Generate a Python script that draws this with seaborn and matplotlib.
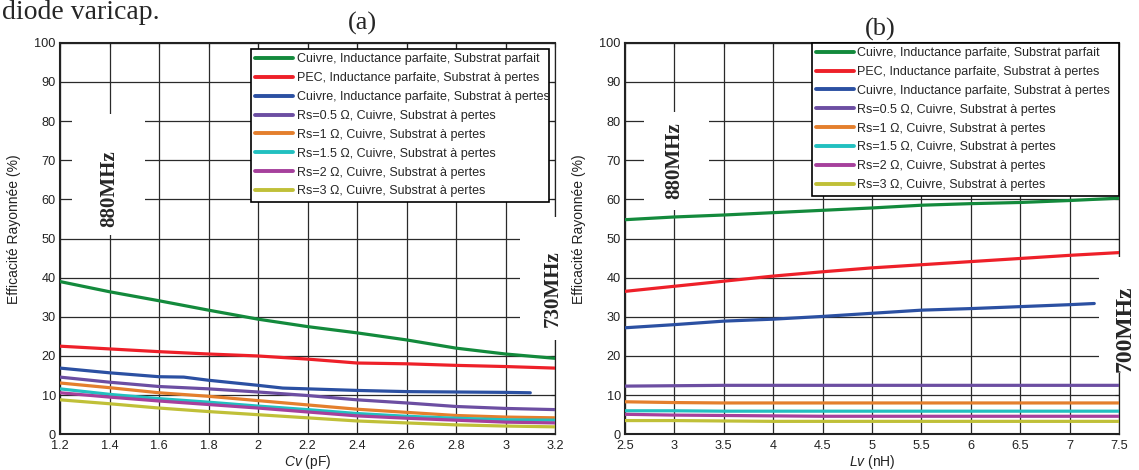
import numpy as np
import pandas as pd
import matplotlib
matplotlib.use('Agg')
import matplotlib.pyplot as plt
from matplotlib.patches import Rectangle
import seaborn as sns

# ---- data ----
labels = ['Cuivre, Inductance parfaite, Substrat parfait',
          'PEC, Inductance parfaite, Substrat à pertes',
          'Cuivre, Inductance parfaite, Substrat à pertes',
          'Rs=0.5 Ω, Cuivre, Substrat à pertes',
          'Rs=1 Ω, Cuivre, Substrat à pertes',
          'Rs=1.5 Ω, Cuivre, Substrat à pertes',
          'Rs=2 Ω, Cuivre, Substrat à pertes',
          'Rs=3 Ω, Cuivre, Substrat à pertes']
colors = ['#138a3c', '#ee2029', '#2b50a2', '#6c4ea2', '#e47f2d', '#22c0c0', '#a6409c', '#c0c038']

# (a) : Cv in pF
cv = [1.2, 1.4, 1.6, 1.8, 2.0, 2.2, 2.4, 2.6, 2.8, 3.0, 3.2]
cv_blue = [1.2, 1.4, 1.6, 1.7, 1.8, 2.0, 2.1, 2.2, 2.4, 2.6, 2.8, 3.0, 3.1]
a_green = [39.0, 36.4, 34.1, 31.7, 29.4, 27.5, 25.9, 24.1, 22.0, 20.5, 19.4]
a_red = [22.5, 21.8, 21.1, 20.5, 20.0, 19.2, 18.2, 18.0, 17.6, 17.3, 16.9]
a_blue = [16.9, 15.7, 14.7, 14.6, 13.8, 12.5, 11.8, 11.6, 11.2, 10.9, 10.8, 10.7, 10.6]
a_purple = [14.6, 13.3, 12.2, 11.6, 10.8, 9.9, 8.8, 8.0, 7.1, 6.6, 6.3]
a_orange = [13.1, 11.9, 10.6, 9.7, 8.6, 7.5, 6.4, 5.6, 4.8, 4.4, 4.2]
a_cyan = [11.6, 10.2, 9.1, 8.2, 7.2, 6.3, 5.3, 4.6, 4.1, 3.7, 3.6]
a_magenta = [10.6, 9.5, 8.5, 7.6, 6.7, 5.7, 4.7, 4.1, 3.6, 3.1, 2.9]
a_yellow = [8.8, 7.8, 6.7, 5.8, 5.0, 4.2, 3.4, 2.9, 2.4, 2.1, 1.9]

# (b) : Lv in nH
lv = [2.5, 3.0, 3.5, 4.0, 4.5, 5.0, 5.5, 6.0, 6.5, 7.0, 7.5]
lv_blue = [2.5, 3.0, 3.5, 4.0, 4.5, 5.0, 5.5, 6.0, 6.5, 7.0, 7.25]
b_green = [54.8, 55.5, 56.0, 56.6, 57.2, 57.8, 58.5, 58.9, 59.2, 59.7, 60.3]
b_red = [36.5, 37.8, 39.1, 40.4, 41.5, 42.5, 43.3, 44.1, 44.9, 45.7, 46.4]
b_blue = [27.2, 28.0, 28.9, 29.4, 30.1, 30.9, 31.7, 32.1, 32.6, 33.1, 33.4]
b_purple = [12.3, 12.4, 12.5, 12.5, 12.5, 12.5, 12.5, 12.5, 12.5, 12.5, 12.5]
b_orange = [8.3, 8.1, 8.0, 8.0, 8.0, 8.0, 8.0, 8.0, 8.0, 8.0, 8.0]
b_cyan = [6.0, 6.0, 5.9, 5.9, 5.9, 5.9, 5.9, 5.9, 5.9, 5.9, 5.9]
b_magenta = [5.1, 4.9, 4.8, 4.7, 4.6, 4.6, 4.6, 4.6, 4.6, 4.6, 4.6]
b_yellow = [3.5, 3.5, 3.4, 3.3, 3.3, 3.3, 3.3, 3.3, 3.3, 3.3, 3.3]

series_a = [(cv, a_green), (cv, a_red), (cv_blue, a_blue), (cv, a_purple),
            (cv, a_orange), (cv, a_cyan), (cv, a_magenta), (cv, a_yellow)]
series_b = [(lv, b_green), (lv, b_red), (lv_blue, b_blue), (lv, b_purple),
            (lv, b_orange), (lv, b_cyan), (lv, b_magenta), (lv, b_yellow)]

sns.set_style('white')
plt.rcParams['font.family'] = ['Liberation Sans', 'DejaVu Sans']
plt.rcParams['mathtext.fontset'] = 'custom'
plt.rcParams['mathtext.it'] = 'Liberation Sans:italic'
plt.rcParams['mathtext.rm'] = 'Liberation Sans'

fig = plt.figure(figsize=(11.39, 4.70), dpi=100)
ax1 = fig.add_axes([0.0527, 0.0760, 0.4346, 0.8331])
ax2 = fig.add_axes([0.5487, 0.0760, 0.4337, 0.8331])


def draw_panel(ax, series, xlim, xticks, xlab, leg_box):
    for (xs, ys), lab, c in zip(series, labels, colors):
        df = pd.DataFrame({'x': xs, 'y': ys})
        sns.lineplot(data=df, x='x', y='y', ax=ax, color=c, lw=2.3, label=lab, zorder=3)
    ax.set_xlim(*xlim)
    ax.set_ylim(0, 100)
    ax.set_xticks(xticks)
    ax.set_xticklabels([('%g' % t) for t in xticks])
    ax.set_yticks(range(0, 101, 10))
    ax.grid(True, color='#2a2a2a', lw=0.9)
    ax.set_axisbelow(True)
    ax.tick_params(direction='in', top=True, right=True, length=3, width=0.8,
                   labelsize=9.2, colors='#222222', pad=3)
    ax.tick_params(axis='x', pad=4)
    for s in ['left', 'bottom', 'top']:
        ax.spines[s].set_linewidth(1.5)
        ax.spines[s].set_color('#222222')
    ax.spines['right'].set_linewidth(0.9)
    ax.spines['right'].set_color('#222222')
    ax.set_xlabel(xlab, fontsize=10, color='#222222')
    ax.set_ylabel('Efficacité Rayonnée (%)', fontsize=10, color='#222222')
    ax.xaxis.set_label_coords(0.5, -0.047)
    ax.yaxis.set_label_coords(-0.079, 0.524)
    leg = ax.legend(loc='upper left', bbox_to_anchor=leg_box, mode='expand',
                    fontsize=9, frameon=True, fancybox=False, borderaxespad=0,
                    borderpad=0.35, labelspacing=0.55, handlelength=3.0,
                    handletextpad=0.3)
    leg.get_frame().set_edgecolor('black')
    leg.get_frame().set_linewidth(1.2)
    leg.get_frame().set_alpha(1)
    leg.set_zorder(5)
    for h in leg.legend_handles:
        h.set_linewidth(2.8)


draw_panel(ax1, series_a, (1.2, 3.2), [1.2, 1.4, 1.6, 1.8, 2.0, 2.2, 2.4, 2.6, 2.8, 3.0, 3.2],
           r'$\mathit{Cv}$ (pF)', (0.386, 0.984, 0.602, 0.0))
draw_panel(ax2, series_b, (2.5, 7.5), [2.5, 3, 3.5, 4, 4.5, 5, 5.5, 6, 6.5, 7, 7.5],
           r'$\mathit{Lv}$ (nH)', (0.378, 1.0, 0.622, 0.0))

# white masks behind the frequency annotations
ax1.add_patch(Rectangle((1.25, 51), 0.295, 30.7, facecolor='white', edgecolor='none', zorder=2.7))
ax1.add_patch(Rectangle((3.06, 24.2), 0.25, 31.4, facecolor='white', edgecolor='none',
                        zorder=2.7, clip_on=False))
ax2.add_patch(Rectangle((2.69, 57.4), 0.66, 24.8, facecolor='white', edgecolor='none', zorder=2.7))
ax2.add_patch(Rectangle((7.3, 15.6), 0.5, 29.7, facecolor='white', edgecolor='none',
                        zorder=2.7, clip_on=False))

serif = ['Liberation Serif', 'DejaVu Serif']
ax1.text(1.4, 62.7, '880MHz', rotation=90, ha='center', va='center', family=serif,
         fontweight='bold', fontsize=15, zorder=4)
ax1.text(3.19, 37.3, '730MHz', rotation=90, ha='center', va='center', family=serif,
         fontweight='bold', fontsize=15, zorder=4, clip_on=False)
ax2.text(3.0, 70.0, '880MHz', rotation=90, ha='center', va='center', family=serif,
         fontweight='bold', fontsize=15, zorder=4)
ax2.text(7.56, 27.0, '700MHz', rotation=90, ha='center', va='center', family=serif,
         fontweight='bold', fontsize=17, zorder=4, clip_on=False)

fig.text(362 / 1139, 1 - 23 / 470, '(a)', ha='center', va='center', family=serif, fontsize=19)
fig.text(880 / 1139, 1 - 29 / 470, '(b)', ha='center', va='center', family=serif, fontsize=19)
fig.text(0.002, 1 - 19 / 470, 'diode varicap.', ha='left', va='baseline', family=serif,
         fontsize=20)

fig.savefig('out.png', dpi=100)
